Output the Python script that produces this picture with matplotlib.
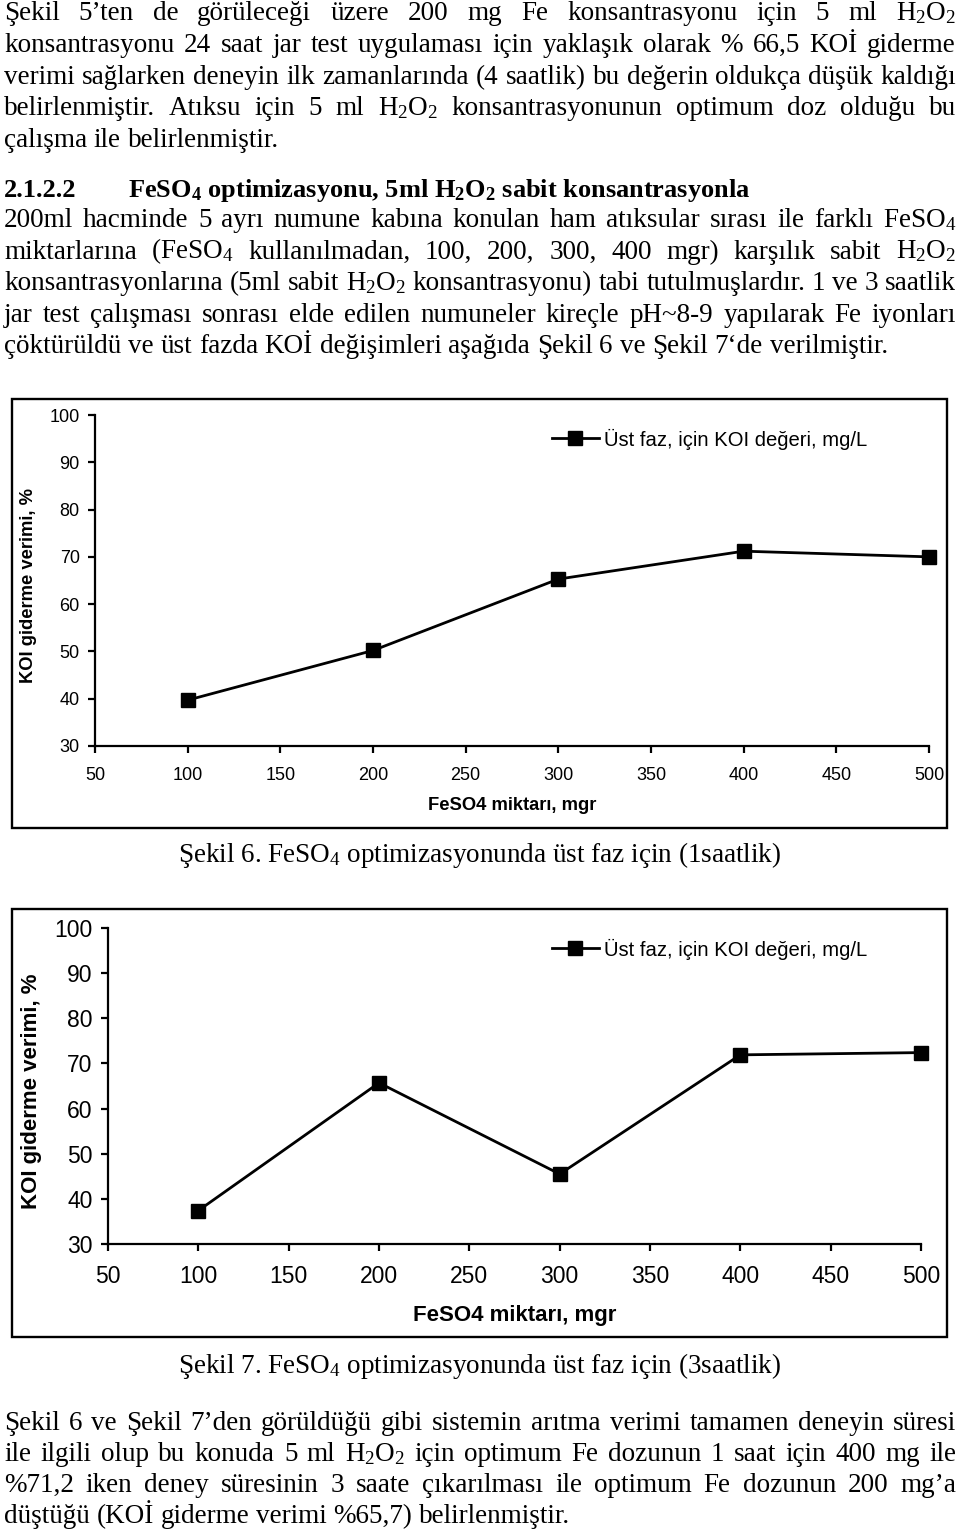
import matplotlib.pyplot as plt
from matplotlib.patches import Rectangle

plt.rcParams['mathtext.fontset'] = 'custom'
plt.rcParams['mathtext.rm'] = 'Liberation Serif'
plt.rcParams['mathtext.it'] = 'Liberation Serif:italic'
plt.rcParams['mathtext.bf'] = 'Liberation Serif:bold'

SERIF = ['Liberation Serif', 'DejaVu Serif']
SANS = ['Liberation Sans', 'DejaVu Sans']

# chart data
feso4 = [100, 200, 300, 400, 500]
koi_1h = [39.7, 50.2, 65.3, 71.2, 70.0]
koi_3h = [37.4, 65.7, 45.5, 71.9, 72.4]
x_ticks = [50, 100, 150, 200, 250, 300, 350, 400, 450, 500]
y_ticks = [30, 40, 50, 60, 70, 80, 90, 100]
legend_label = "Üst faz, için KOI değeri, mg/L"
x_title = "FeSO4 miktarı, mgr"
y_title = "KOI giderme verimi, %"
caption_6 = "Şekil 6. FeSO$_4$ optimizasyonunda üst faz için (1saatlik)"
caption_7 = "Şekil 7. FeSO$_4$ optimizasyonunda üst faz için (3saatlik)"

# page text
para_1 = [
    "Şekil 5’ten de görüleceği üzere 200 mg Fe konsantrasyonu için 5 ml H$_2$O$_2$",
    "konsantrasyonu 24 saat jar test uygulaması için yaklaşık olarak % 66,5 KOİ giderme",
    "verimi sağlarken deneyin ilk zamanlarında (4 saatlik) bu değerin oldukça düşük kaldığı",
    "belirlenmiştir. Atıksu için 5 ml H$_2$O$_2$ konsantrasyonunun optimum doz olduğu bu",
    "çalışma ile belirlenmiştir.",
]
heading_no = "2.1.2.2"
heading = r"FeSO$_\mathbf{4}$ optimizasyonu, 5ml H$_\mathbf{2}$O$_\mathbf{2}$ sabit konsantrasyonla"
para_2 = [
    "200ml hacminde 5 ayrı numune kabına konulan ham atıksular sırası ile farklı FeSO$_4$",
    "miktarlarına (FeSO$_4$ kullanılmadan, 100, 200, 300, 400 mgr) karşılık sabit H$_2$O$_2$",
    "konsantrasyonlarına (5ml sabit H$_2$O$_2$ konsantrasyonu) tabi tutulmuşlardır. 1 ve 3 saatlik",
    "jar test çalışması sonrası elde edilen numuneler kireçle pH~8-9 yapılarak Fe iyonları",
    "çöktürüldü ve üst fazda KOİ değişimleri aşağıda Şekil 6 ve Şekil 7‘de verilmiştir.",
]
para_3 = [
    "Şekil 6 ve Şekil 7’den görüldüğü gibi sistemin arıtma verimi tamamen deneyin süresi",
    "ile ilgili olup bu konuda 5 ml H$_2$O$_2$ için optimum Fe dozunun 1 saat için 400 mg ile",
    "%71,2 iken deney süresinin 3 saate çıkarılması ile optimum Fe dozunun 200 mg’a",
    "düştüğü (KOİ giderme verimi %65,7) belirlenmiştir.",
]

W, H = 960, 1538
fig = plt.figure(figsize=(W / 100, H / 100), dpi=100)
renderer = fig.canvas.get_renderer()
BODY = 19.5


def fx(x):
    return x / W


def fy(y):
    return 1 - y / H


def text_line(y, line, justify=True, left=4, right=956, size=BODY, weight='normal'):
    words = line.split(' ')
    arts = [fig.text(0, fy(y), w, fontsize=size, family=SERIF, weight=weight,
                     ha='left', va='baseline') for w in words]
    widths = [a.get_window_extent(renderer).width for a in arts]
    gap = 0.25 * size * 100 / 72
    if justify and len(words) > 1:
        gap = (right - left - sum(widths)) / (len(words) - 1)
    x = left
    for a, w in zip(arts, widths):
        a.set_x(fx(x))
        x += w + gap


def paragraph(y0, lines, step=31.6):
    for i, line in enumerate(lines):
        text_line(y0 + i * step, line, justify=(i < len(lines) - 1))


paragraph(20.5, para_1)
fig.text(fx(4), fy(197), heading_no, fontsize=19, family=SERIF, weight='bold', va='baseline')
fig.text(fx(128), fy(197), heading, fontsize=19, family=SERIF, weight='bold', va='baseline')
paragraph(227, para_2)
paragraph(1430, para_3, step=31.0)


def chart(frame, box, values, legend_y, ylab_x, xlab_y, tick_fs, lab_fs, caption, cap_y):
    fx0, fy0, fx1, fy1 = frame
    fig.patches.append(Rectangle((fx(fx0), fy(fy1)), fx(fx1) - fx(fx0), fy(fy0) - fy(fy1),
                                 transform=fig.transFigure, fill=False, lw=1.7,
                                 edgecolor='black'))
    left, top, right, bottom = box
    ax = fig.add_axes([fx(left), fy(bottom), fx(right) - fx(left), fy(top) - fy(bottom)])
    line, = ax.plot(feso4, values, color='black', lw=2.0, marker='s', markersize=9.5,
                    clip_on=False, label=legend_label)
    ax.set_xlim(50, 500)
    ax.set_ylim(30, 100)
    ax.set_xticks(x_ticks)
    ax.set_yticks(y_ticks)
    for s in ['top', 'right']:
        ax.spines[s].set_visible(False)
    for s in ['left', 'bottom']:
        ax.spines[s].set_linewidth(1.6)
    ax.tick_params(direction='out', length=5, width=1.6, labelsize=tick_fs, pad=6)
    for lbl in ax.get_xticklabels() + ax.get_yticklabels():
        lbl.set_family(SANS)
    ax.tick_params(axis='x', pad=10)
    ax.legend(handles=[line], loc='center left', bbox_to_anchor=(fx(552), fy(legend_y)),
              bbox_transform=fig.transFigure, frameon=False, handlelength=2.3,
              handletextpad=0.25, borderpad=0, borderaxespad=0,
              prop={'family': SANS, 'size': 14.6})
    fig.text(fx(ylab_x), fy((top + bottom) / 2 + 5), y_title, rotation=90, ha='center',
             va='center', fontsize=lab_fs, family=SANS, weight='bold')
    fig.text(fx((left + right) / 2 + 0), fy(xlab_y), x_title, ha='center', va='center',
             fontsize=lab_fs, family=SANS, weight='bold')
    fig.text(0.5, fy(cap_y), caption, ha='center', va='baseline', fontsize=BODY, family=SERIF)
    return ax


chart((12, 399, 947, 828), (95, 415, 929, 746), koi_1h, 439, 29, 805, 13, 13.2,
      caption_6, 862)
chart((12, 909, 947, 1337), (108, 928, 921, 1244), koi_3h, 949, 32, 1315, 16.5, 16,
      caption_7, 1373)

fig.savefig('out.png', dpi=100)
